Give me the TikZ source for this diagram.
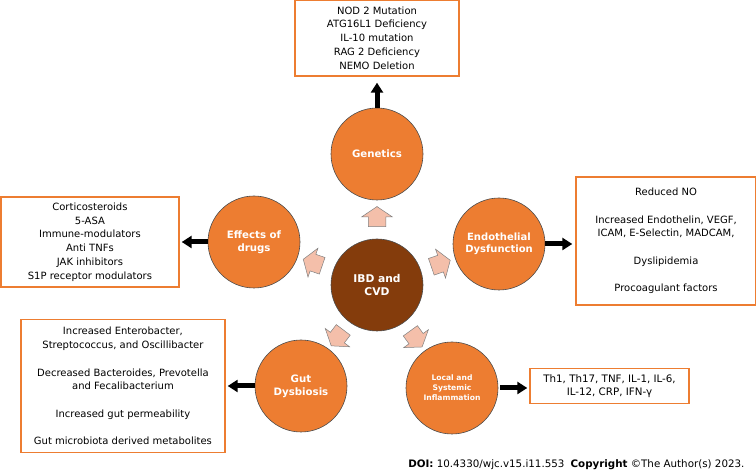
\documentclass[tikz,border=0pt]{standalone}
\usepackage{fontspec}
\setmainfont{DejaVu Sans}
\usepackage{tikz}
\usetikzlibrary{shapes.arrows, arrows.meta, positioning, calc}
\definecolor{ibdorange}{HTML}{ED7D31}
\definecolor{ibdbrown}{HTML}{843C0C}
\definecolor{ibdpink}{HTML}{F4BFAA}
\tikzstyle{hub} = [circle, minimum size=92pt, inner sep=1pt, draw=black!70, line width=0.6pt, fill=ibdbrown, text=white, align=center, font=\bfseries\fontsize{10.7}{13}\selectfont]
\tikzstyle{factor} = [hub, fill=ibdorange, font=\bfseries\fontsize{10.2}{13}\selectfont]
\tikzstyle{listbox} = [rectangle, draw=ibdorange, line width=1.5pt, fill=white, align=center, inner sep=2pt, font=\fontsize{10}{13.7}\selectfont]
\tikzstyle{pinkarrow} = [single arrow, draw=black!50, fill=ibdpink, line width=0.5pt, minimum height=20pt, inner xsep=0pt, inner ysep=8.5pt, single arrow head extend=6.5pt, single arrow tip angle=112]
\tikzstyle{arrow} = [line width=5pt, -{Triangle[length=10pt,width=12pt]}]

\begin{document}
\begin{tikzpicture}[x=1pt, y=1pt, node distance=30pt]
    \useasboundingbox (0,0) rectangle (756,473);

    % centre and the five factors
    \node (ibd) [hub] at (377,188) {IBD and\\CVD};
    \node (gen) [factor] at (377,319) {Genetics};
    \node (drugs) [factor] at (254,231) {Effects of\\drugs};
    \node (endo) [factor, font=\bfseries\fontsize{10}{12}\selectfont] at (499,229) {Endothelial\\Dysfunction};
    \node (gut) [factor] at (301,87) {Gut\\Dysbiosis};
    \node (local) [factor, font=\bfseries\fontsize{7.6}{10}\selectfont] at (452,85) {Local and\\Systemic\\Inflammation};

    % pink block arrows
    \node (p1) [pinkarrow, rotate=90] at ($(ibd)!0.5!(gen)$) {};
    \node (p2) [pinkarrow, rotate=161] at ($(ibd)!0.5!(drugs)$) {};
    \node (p3) [pinkarrow, rotate=19] at ($(ibd)!0.5!(endo)$) {};
    \node (p4) [pinkarrow, rotate=233] at ($(ibd)!0.5!(gut)$) {};
    \node (p5) [pinkarrow, rotate=306] at ($(ibd)!0.5!(local)$) {};

    % boxes
    \node (genbox) [listbox, minimum width=164pt, minimum height=76pt, above = 31pt of gen] {NOD 2 Mutation\\ATG16L1 Deficiency\\IL-10 mutation\\RAG 2 Deficiency\\NEMO Deletion};
    \node (drugbox) [listbox, minimum width=178pt, minimum height=90pt, left = 28pt of drugs] {Corticosteroids\\5-ASA\\Immune-modulators\\Anti TNFs\\JAK inhibitors\\S1P receptor modulators};
    \node (endobox) [listbox, minimum width=180pt, minimum height=128pt, right = 30pt of endo, yshift=3pt] {Reduced NO\\~\\Increased Endothelin, VEGF,\\ICAM, E-Selectin, MADCAM,\\~\\Dyslipidemia\\~\\Procoagulant factors};
    \node (gutbox) [listbox, minimum width=204pt, minimum height=133pt, left = 29pt of gut] {Increased Enterobacter,\\Streptococcus, and Oscillibacter\\~\\Decreased Bacteroides, Prevotella\\and Fecalibacterium\\~\\Increased gut permeability\\~\\Gut microbiota derived metabolites};
    \node (localbox) [listbox, minimum width=159pt, minimum height=35pt, right = 31pt of local, yshift=2pt, font=\fontsize{10.3}{12.7}\selectfont] {Th1, Th17, TNF, IL-1, IL-6,\\IL-12, CRP, IFN-γ};

    \draw [arrow, shorten >=6pt] (gen) -- (genbox);
    \draw [arrow, shorten >=2pt] (drugs) -- (drugbox);
    \draw [arrow, shorten >=3pt] (endo.east) -- (endo.east -| endobox.west);
    \draw [arrow, shorten >=2pt] (gut) -- (gutbox);
    \draw [arrow, shorten <=2pt, shorten >=2pt] (local.east) -- (local.east -| localbox.west);

    \node (doi) [anchor=base east, font=\fontsize{10.3}{12}\selectfont] at (748,5) {\textbf{DOI:} 10.4330/wjc.v15.i11.553\hspace{0.6em}\textbf{Copyright} ©The Author(s) 2023.};
\end{tikzpicture}
\end{document}
